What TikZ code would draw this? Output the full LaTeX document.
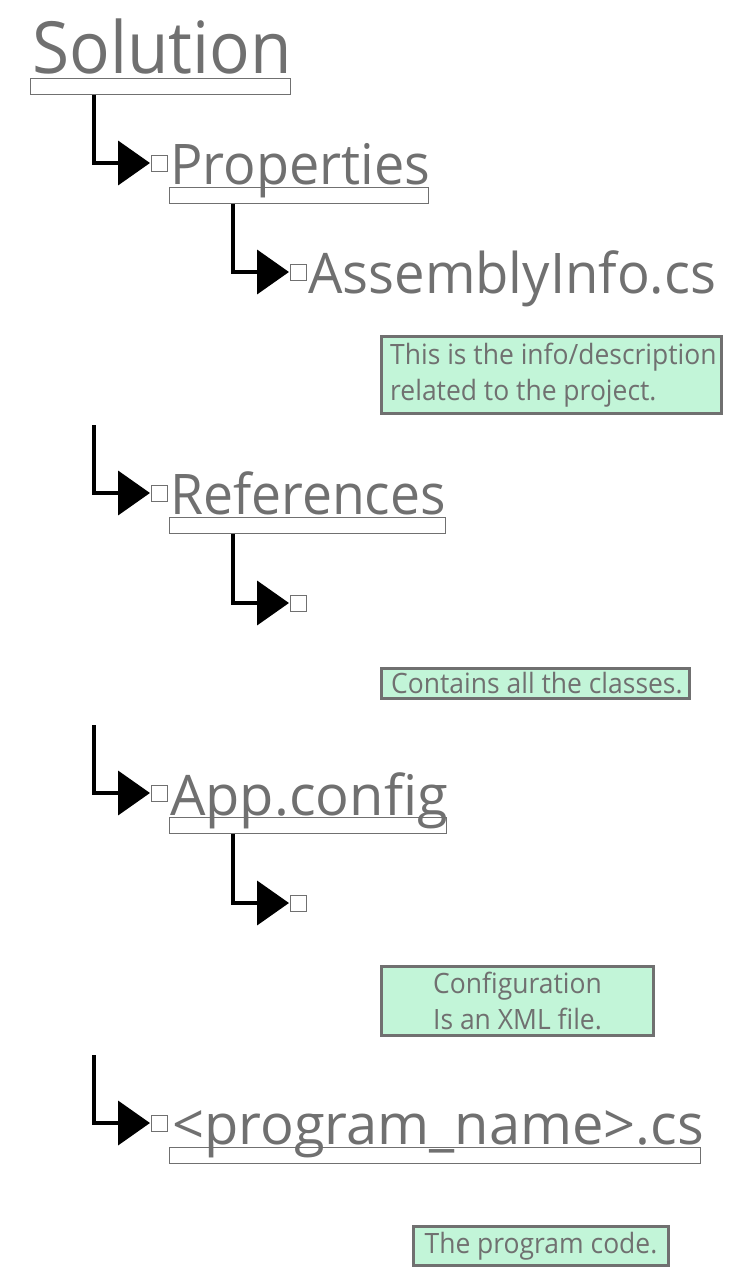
\documentclass[tikz,border=0pt]{standalone}
\usepackage{fontspec}
\setmainfont{Open Sans}
\usetikzlibrary{arrows.meta}
\definecolor{txtgray}{HTML}{707070}
\definecolor{notegreen}{HTML}{C2F5D8}
\newcommand{\sx}[2]{\scalebox{#1}[1]{#2}}
\begin{document}
\begin{tikzpicture}[x=1pt,y=-1pt,
  title/.style={anchor=base west,inner sep=0pt,text=txtgray,font=\fontsize{56}{60}\selectfont},
  ubox/.style={draw=txtgray,line width=0.8pt,inner sep=0pt,anchor=north west,minimum height=16pt},
  sq/.style={draw=txtgray,line width=0.8pt,fill=white,minimum size=16pt,inner sep=0pt,anchor=west},
  conn/.style={line width=4pt,-{Triangle[length=32pt,width=44pt]},shorten >=1pt},
  note/.style={draw=txtgray,line width=3pt,fill=notegreen,inner sep=0pt,anchor=north west},
  ntext/.style={inner sep=0pt,text=txtgray,font=\fontsize{28}{36}\selectfont}]
\useasboundingbox (0,0) rectangle (754,1287);
% Solution
\node[title,font=\fontsize{72}{76}\selectfont] (sol) at (32,74) {\sx{0.938}{Solution}};
\node[ubox,minimum width=260pt] (solbox) at (30,78) {};
% Properties
\node[sq] (sq1) at (151,163) {};
\node[title] (prop) at (170,184) {\sx{0.963}{Properties}};
\node[ubox,minimum width=259pt] (propbox) at (169,187) {};
\draw[conn] (solbox.south west) ++(64,0) |- (sq1.west);
% AssemblyInfo
\node[sq] (sq2) at (290,272) {};
\node[title] (asm) at (308,293) {\sx{0.971}{AssemblyInfo.cs}};
\draw[conn] (propbox.south west) ++(64,0) |- (sq2.west);
\node[note,minimum width=340pt,minimum height=77pt] (n1) at (380,335) {};
\node[ntext,anchor=base west] (n1a) at (390,364) {\sx{0.945}{This is the info/description}};
\node[ntext,anchor=base west] (n1b) at (390,400) {\sx{0.945}{related to the project.}};
% References
\coordinate (c2) at (94,425);
\node[sq] (sq3) at (151,493) {};
\node[title] (refs) at (170,514) {\sx{0.955}{References}};
\node[ubox,minimum width=276pt] (refbox) at (169,517) {};
\draw[conn] (c2) |- (sq3.west);
\node[sq] (sq4) at (290,603) {};
\draw[conn] (refbox.south west) ++(64,0) |- (sq4.west);
\node[note,minimum width=308pt,minimum height=30pt] (n2) at (380,667) {};
\node[ntext,anchor=base west] (n2t) at (391,693) {\sx{0.945}{Contains all the classes.}};
% App.config
\coordinate (c3) at (94,725);
\node[sq] (sq5) at (151,793) {};
\node[title] (app) at (170,815) {App.config};
\node[ubox,minimum width=277pt] (appbox) at (169,817) {};
\draw[conn] (c3) |- (sq5.west);
\node[sq] (sq6) at (290,903) {};
\draw[conn] (appbox.south west) ++(64,0) |- (sq6.west);
\node[note,minimum width=272pt,minimum height=69pt] (n3) at (380,965) {};
\node[ntext,anchor=base] (n3a) at (517.5,993) {\sx{0.945}{Configuration}};
\node[ntext,anchor=base] (n3b) at (517.5,1029) {\sx{0.945}{Is an XML file.}};
% program
\coordinate (c4) at (94,1055);
\node[sq] (sq7) at (151,1123) {};
\node[title] (prog) at (172,1144) {<program\_name>.cs};
\node[ubox,minimum width=531pt] (progbox) at (169,1147) {};
\draw[conn] (c4) |- (sq7.west);
\node[note,minimum width=255pt,minimum height=39pt] (n4) at (412,1225) {};
\node[ntext,anchor=base] (n4t) at (541,1253) {\sx{0.945}{The program code.}};
\end{tikzpicture}
\end{document}
